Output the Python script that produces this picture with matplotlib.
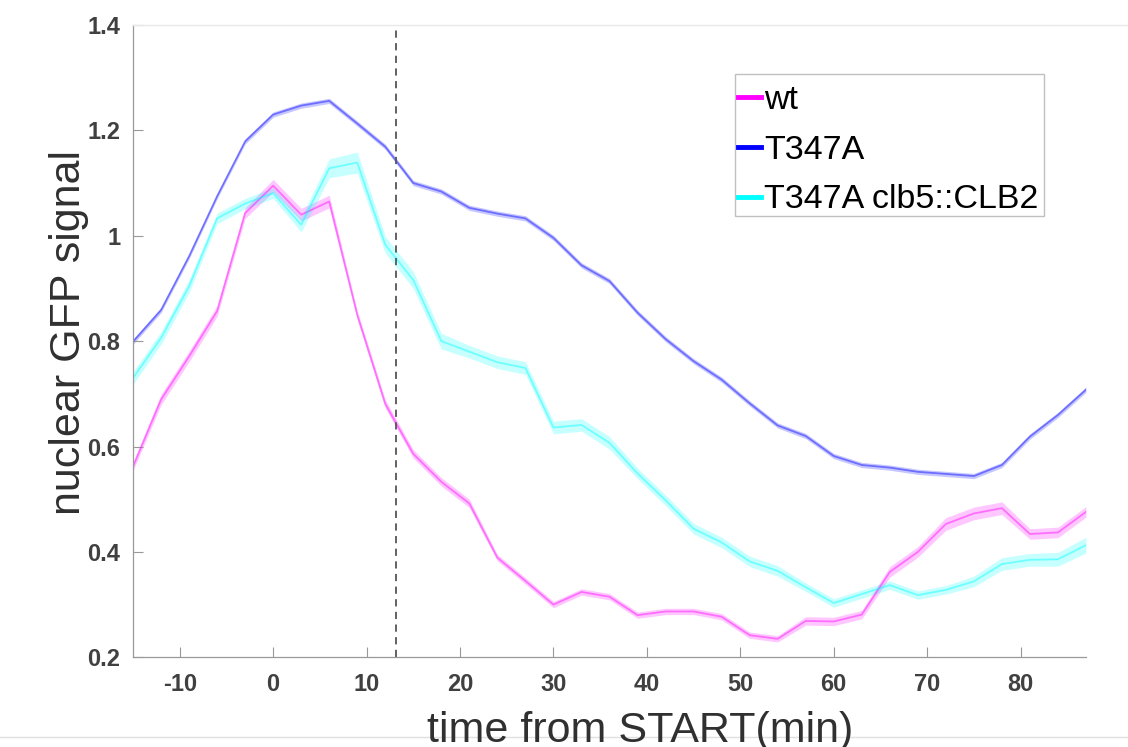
import numpy as np
import matplotlib
matplotlib.use('Agg')
import matplotlib.pyplot as plt
from matplotlib.lines import Line2D
from matplotlib.patches import Rectangle

plt.rcParams['font.family'] = ['Liberation Sans', 'DejaVu Sans']
plt.rcParams['axes.unicode_minus'] = False

# time points (min from START)
time = [-15, -12, -9, -6, -3, 0, 3, 6, 9, 12, 15, 18, 21, 24, 27, 30, 33, 36,
        39, 42, 45, 48, 51, 54, 57, 60, 63, 66, 69, 72, 75, 78, 81, 84, 87]

# mean nuclear GFP signal
wt = [0.562, 0.689, 0.771, 0.857, 1.043, 1.095, 1.040, 1.065, 0.850, 0.681,
      0.586, 0.533, 0.492, 0.389, 0.345, 0.300, 0.324, 0.315, 0.280, 0.287,
      0.287, 0.277, 0.242, 0.235, 0.269, 0.268, 0.281, 0.362, 0.400, 0.453,
      0.473, 0.483, 0.434, 0.437, 0.476]
t347a = [0.799, 0.859, 0.961, 1.075, 1.179, 1.230, 1.247, 1.256, 1.213, 1.169,
         1.100, 1.084, 1.053, 1.042, 1.033, 0.996, 0.944, 0.914, 0.854, 0.804,
         0.762, 0.727, 0.682, 0.640, 0.620, 0.582, 0.565, 0.560, 0.552, 0.548,
         0.544, 0.565, 0.619, 0.660, 0.708]
t347a_clb2 = [0.730, 0.806, 0.904, 1.033, 1.061, 1.081, 1.021, 1.128, 1.139, 0.983,
              0.916, 0.800, 0.780, 0.760, 0.749, 0.636, 0.641, 0.607, 0.549, 0.498,
              0.444, 0.418, 0.382, 0.364, 0.333, 0.303, 0.320, 0.337, 0.318, 0.328,
              0.344, 0.377, 0.385, 0.386, 0.413]

# shaded error (half width)
wt_err = [0.008, 0.010, 0.010, 0.010, 0.010, 0.012, 0.012, 0.012, 0.008, 0.008,
          0.008, 0.008, 0.008, 0.006, 0.006, 0.006, 0.006, 0.006, 0.006, 0.006,
          0.006, 0.006, 0.006, 0.006, 0.008, 0.008, 0.008, 0.010, 0.010, 0.012,
          0.012, 0.012, 0.010, 0.010, 0.010]
t347a_err = [0.005] * 35
t347a_clb2_err = [0.012, 0.012, 0.012, 0.010, 0.010, 0.010, 0.014, 0.018, 0.020, 0.016,
                  0.016, 0.015, 0.012, 0.012, 0.012, 0.012, 0.012, 0.012, 0.010, 0.010,
                  0.010, 0.010, 0.010, 0.010, 0.008, 0.008, 0.008, 0.008, 0.008, 0.008,
                  0.010, 0.012, 0.012, 0.013, 0.015]

labels = ['wt', 'T347A', 'T347A clb5::CLB2']
colors = ['#ff00ff', '#0000ff', '#00ffff']
start_line = 13.2

W, H = 1128, 747
fig = plt.figure(figsize=(W / 100, H / 100), dpi=100)
ax = fig.add_axes([133 / W, 1 - 657.3 / H, (1086 - 133) / W, (657.3 - 25) / H])

t = np.array(time)
for y, e, c in zip([wt, t347a, t347a_clb2], [wt_err, t347a_err, t347a_clb2_err], colors):
    y = np.array(y)
    e = np.array(e)
    ax.fill_between(t, y - e, y + e, color=c, alpha=0.22, lw=0)
    ax.plot(t, y, color=c, lw=1.3, alpha=0.45)

ax.axvline(start_line, color='#555555', lw=1.3, ls=(0, (4, 3)))

ax.set_xlim(-15, 87)
ax.set_ylim(0.2, 1.4)
ax.set_xticks([-10, 0, 10, 20, 30, 40, 50, 60, 70, 80])
ax.set_yticks([0.2, 0.4, 0.6, 0.8, 1.0, 1.2, 1.4])
ax.set_yticklabels(['0.2', '0.4', '0.6', '0.8', '1', '1.2', '1.4'])
ax.tick_params(direction='in', length=7, width=0.8, color='#999999',
               labelsize=17, labelcolor='#404040', pad=11)
for lab in ax.get_xticklabels() + ax.get_yticklabels():
    lab.set_fontweight('bold')
ax.tick_params(axis='y', pad=9)
for s in ['top', 'right']:
    ax.spines[s].set_visible(False)
for s in ['left', 'bottom']:
    ax.spines[s].set_color('#999999')
    ax.spines[s].set_linewidth(0.9)

fig.text(640.5 / W, 1 - 742 / H, 'time from START(min)', ha='center', va='baseline',
         fontsize=31, color='#303030')
fig.text(69 / W, 1 - 332.5 / H, 'nuclear GFP signal', ha='center', va='center',
         rotation=90, fontsize=31, color='#303030')

# legend: entries without frame, box drawn separately
handles = [Line2D([0], [0], color=c, lw=3.5) for c in colors]
fig.legend(handles, labels, loc='upper left',
           bbox_to_anchor=(738 / W, 1 - 85 / H), bbox_transform=fig.transFigure,
           borderaxespad=0, borderpad=0, fontsize=24.5, handlelength=0.68,
           handletextpad=0.08, labelspacing=0.55, frameon=False)
fig.add_artist(Rectangle((735 / W, 1 - 216 / H), (1044 - 735) / W, (216 - 74) / H,
                         transform=fig.transFigure, fill=False, ec='#c0c0c0', lw=1.0))

# faint frame lines from the original screenshot
fig.add_artist(Line2D([133 / W, 1], [1 - 25 / H, 1 - 25 / H], color='#e8e8e8', lw=1,
                      transform=fig.transFigure))
fig.add_artist(Line2D([0, 1], [1 - 737 / H, 1 - 737 / H], color='#e0e0e0', lw=1,
                      transform=fig.transFigure))

fig.savefig('out.png', dpi=100)
